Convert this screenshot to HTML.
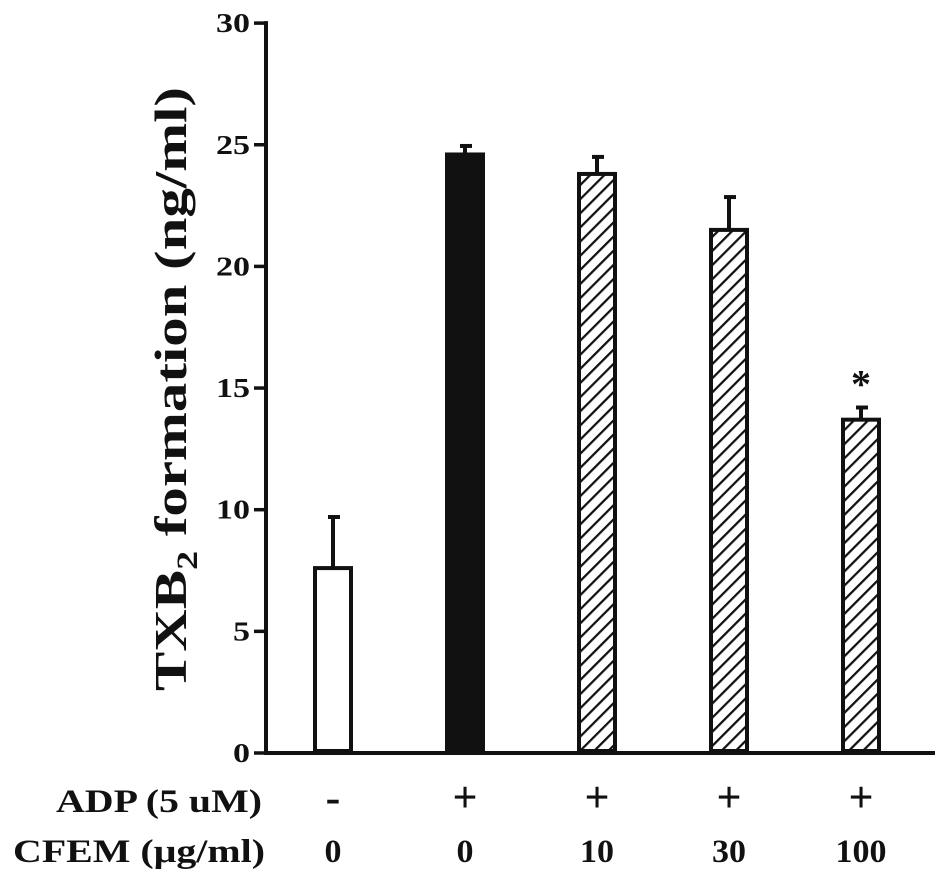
<!DOCTYPE html>
<html><head><meta charset="utf-8"><style>
body{margin:0;background:#fff}
svg text{font-family:"Liberation Serif",serif;font-weight:bold;fill:#111}
</style></head><body>
<svg id="chart" width="945" height="887" viewBox="0 0 945 887">
<defs>
<pattern id="hatch" patternUnits="userSpaceOnUse" width="10" height="10" patternTransform="rotate(45)">
<rect width="10" height="10" fill="#fff"/>
<line x1="0" y1="0" x2="0" y2="10" stroke="#111" stroke-width="4.5"/>
</pattern>
</defs>
<g id="axes"></g>
<g id="bars"></g>
<text transform="translate(186,389) rotate(-90)" x="-302" font-size="46" textLength="604" lengthAdjust="spacingAndGlyphs">TXB<tspan font-size="30" dy="11">2</tspan><tspan dy="-11"> formation (ng/ml)</tspan></text>
<text x="56" y="812" font-size="33" textLength="206" lengthAdjust="spacingAndGlyphs">ADP (5 uM)</text>
<text x="13" y="862" font-size="33" textLength="252" lengthAdjust="spacingAndGlyphs">CFEM (μg/ml)</text>
</svg>
<script>
const categories=["control","ADP","CFEM10","CFEM30","CFEM100"];
const values=[7.6,24.6,23.8,21.5,13.7];
const errors=[2.1,0.35,0.7,1.35,0.5];
const adpLabels=["-","+","+","+","+"];
const cfemLabels=["0","0","10","30","100"];
const fills=["#fff","#111","url(#hatch)","url(#hatch)","url(#hatch)"];
const significant=[false,false,false,false,true];
const yTicks=[0,5,10,15,20,25,30];
const NS="http://www.w3.org/2000/svg";
const y0=753,yScale=24.33,axisX=266;
const y=v=>y0-v*yScale;
const xc=i=>333+i*132;
function mk(tag,attrs,parent){const e=document.createElementNS(NS,tag);for(const k in attrs)e.setAttribute(k,attrs[k]);parent.appendChild(e);return e;}
const axes=document.getElementById('axes'),bars=document.getElementById('bars'),svg=document.getElementById('chart');
let a=mk('line',{x1:axisX,y1:y(30)-2,x2:axisX,y2:y0+2,stroke:'#111','stroke-width':4},axes);


let xa=mk('line',{x1:axisX-2,y1:y0,x2:935,y2:y0,stroke:'#111','stroke-width':4},axes);


yTicks.forEach(t=>{
 let tk=mk('line',{x1:axisX-12,y1:y(t),x2:axisX,y2:y(t),stroke:'#111','stroke-width':3.5},axes);
 
 
 const s=String(t);
 const len=17*s.length;
 let tl=mk('text',{x:axisX-16-len,y:y(t)+9,'font-size':27,textLength:len,lengthAdjust:'spacingAndGlyphs'},axes);
 tl.textContent=s;
 
 
});
values.forEach((v,i)=>{
 const cx=xc(i),w=36;
 let eb=mk('line',{x1:cx,y1:y(v),x2:cx,y2:y(v+errors[i]),stroke:'#111','stroke-width':4},bars);
 
 
 let cap=mk('line',{x1:cx-5,y1:y(v+errors[i]),x2:cx+7,y2:y(v+errors[i]),stroke:'#111','stroke-width':4},bars);
 
 
 let r=mk('rect',{x:cx-w/2,y:y(v),width:w,height:y0-y(v)-2,fill:fills[i],stroke:'#111','stroke-width':4},bars);
 
 
 let t1=mk('text',{x:cx,y:812,'text-anchor':'middle','font-size':44},svg);
 t1.textContent=adpLabels[i];
 
 
 const lab=cfemLabels[i],ll=17*lab.length;
 let t2=mk('text',{x:cx-ll/2,y:862,'font-size':33,textLength:ll,lengthAdjust:'spacingAndGlyphs'},svg);
 t2.textContent=lab;
 
 
 if(significant[i]){
  let s=mk('text',{x:cx,y:y(v+errors[i])-10,'text-anchor':'middle','font-size':40},svg);
  s.textContent='*';
  
  
 }
});
</script>
</body></html>
